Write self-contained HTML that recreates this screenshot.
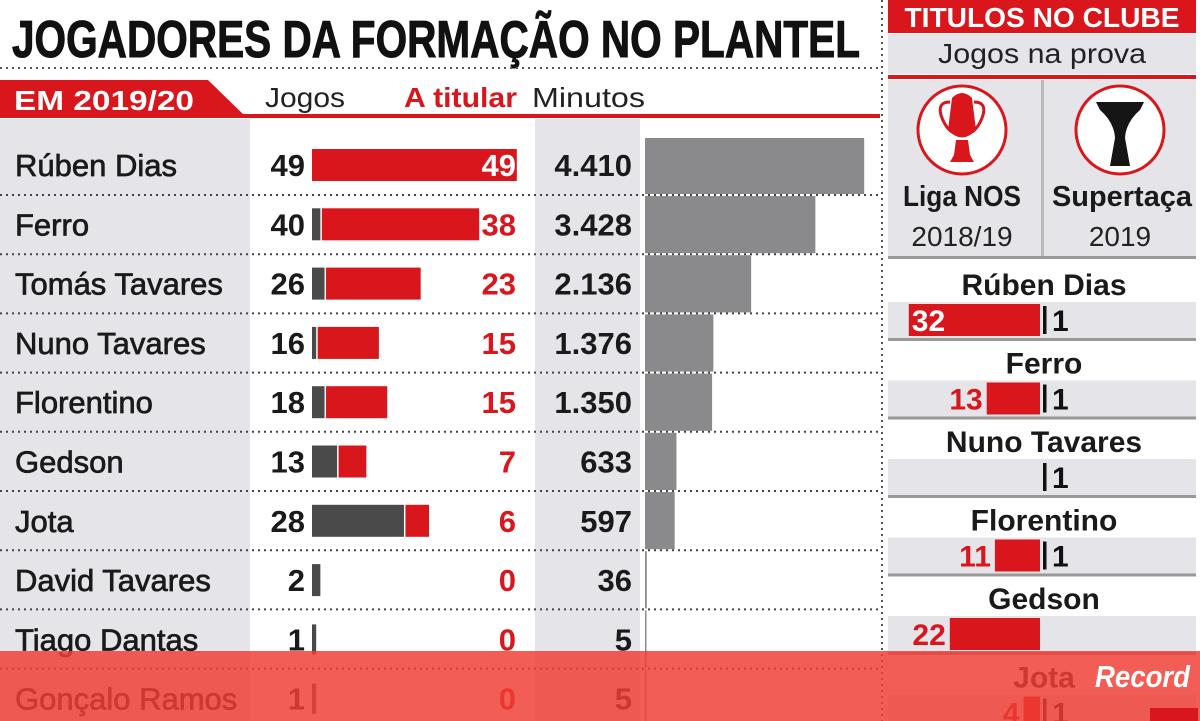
<!DOCTYPE html>
<html><head><meta charset="utf-8">
<style>
html,body{margin:0;padding:0;background:#fff;}
svg{display:block;}
text{font-family:"Liberation Sans",sans-serif;}
</style></head>
<body>
<svg id="c" width="1200" height="721" viewBox="0 0 1200 721" xmlns="http://www.w3.org/2000/svg"></svg>
<script>
const players = ["Rúben Dias","Ferro","Tomás Tavares","Nuno Tavares","Florentino","Gedson","Jota","David Tavares","Tiago Dantas","Gonçalo Ramos"];
const jogos = [49,40,26,16,18,13,28,2,1,1];
const titular = [49,38,23,15,15,7,6,0,0,0];
const minutos = [4410,3428,2136,1376,1350,633,597,36,5,5];
const minutosLabels = ["4.410","3.428","2.136","1.376","1.350","633","597","36","5","5"];
const tPlayers = ["Rúben Dias","Ferro","Nuno Tavares","Florentino","Gedson","Jota"];
const ligaNos = [32,13,0,11,22,4];
const supertaca = [1,1,1,1,0,1];

const NS="http://www.w3.org/2000/svg";
const svg=document.getElementById('c');
function el(tag,attrs,parent){const e=document.createElementNS(NS,tag);for(const k in attrs)e.setAttribute(k,attrs[k]);(parent||svg).appendChild(e);return e;}
function txt(s,attrs,parent){const e=el('text',attrs,parent);e.textContent=s;return e;}

const RED="#d9161c", DARK="#4a4a4a", MINBAR="#8a8a8c", BG="#e5e5e9";
const rowY=i=>165+59.3*i;
const sepY=i=>195+59.2*i;
const xJ=v=>312+v*4.18;
const xM=v=>645+v*0.0497;
const xT=v=>1040-v*4.1;

let r;
r=el('rect',{x:0,y:119,width:250,height:602,fill:BG});

r=el('rect',{x:535,y:119,width:105,height:602,fill:BG});


let t=txt("JOGADORES DA FORMAÇÃO NO PLANTEL",{x:12,y:57,'font-size':52,'font-weight':'bold',fill:'#111',stroke:'#111','stroke-width':1,textLength:848,lengthAdjust:'spacingAndGlyphs'});

el('line',{x1:0,y1:68,x2:880,y2:68,stroke:'#555','stroke-width':2,'stroke-dasharray':'2 4'});
el('line',{x1:882,y1:0,x2:882,y2:721,stroke:'#555','stroke-width':2,'stroke-dasharray':'2 4'});

r=el('path',{d:'M0 80 L208 80 L246 117 L0 117 Z',fill:RED});

el('rect',{x:0,y:114,width:880,height:4,fill:RED});
t=txt("EM 2019/20",{x:14,y:110,'font-size':28,'font-weight':'bold',fill:'#fff',textLength:180,lengthAdjust:'spacingAndGlyphs'});

t=txt("Jogos",{x:265,y:107,'font-size':28,fill:'#222',textLength:80,lengthAdjust:'spacingAndGlyphs'});

t=txt("A titular",{x:404,y:107,'font-size':28,'font-weight':'bold',fill:RED,textLength:113,lengthAdjust:'spacingAndGlyphs'});

t=txt("Minutos",{x:532,y:107,'font-size':28,fill:'#222',textLength:113,lengthAdjust:'spacingAndGlyphs'});


players.forEach((p,i)=>{
  const cy=rowY(i);
  const g=el('g',{});
  
  
  const top=i===0?138:sepY(i-1)+1, bot=sepY(i)-1;
  const mb=el('rect',{x:645,y:top,width:Math.max(1.5,xM(minutos[i])-645),height:bot-top,fill:MINBAR},g);
  
  
  const n=txt(p,{x:15,y:cy+11,'font-size':31,fill:'#1a1a1a',stroke:'#1a1a1a','stroke-width':0.7},g);
  
  
  const jn=txt(String(jogos[i]),{x:305,y:cy+11,'font-size':31,'font-weight':'bold','text-anchor':'end',fill:'#1a1a1a'},g);
  
  
  const sub=jogos[i]-titular[i];
  const bh=i>=8?30:32;
  if(sub>0){
    const gb=el('rect',{x:xJ(0),y:cy-bh/2,width:Math.max(2.5,xJ(sub)-xJ(0)),height:bh,fill:DARK},g);
    
    
  }
  if(titular[i]>0){
    const x0=xJ(sub)+(sub>0?1.5:0);
    const rb=el('rect',{x:x0,y:cy-bh/2,width:xJ(jogos[i])-x0,height:bh,fill:RED},g);
    
    
  }
  const tn=txt(String(titular[i]),{x:516,y:cy+11,'font-size':31,'font-weight':'bold','text-anchor':'end',fill:i===0?'#fff':RED},g);
  
  
  const mn=txt(minutosLabels[i],{x:632,y:cy+11,'font-size':31,'font-weight':'bold','text-anchor':'end',fill:'#1a1a1a'},g);
  
  
  const s=el('line',{x1:0,y1:sepY(i),x2:880,y2:sepY(i),stroke:'#444','stroke-width':2,'stroke-dasharray':'2 4'},g);
  
  
});

r=el('rect',{x:888,y:0,width:308,height:33,fill:RED});

t=txt("TITULOS NO CLUBE",{x:1042,y:27,'font-size':28,'font-weight':'bold',fill:'#fff','text-anchor':'middle',textLength:275,lengthAdjust:'spacingAndGlyphs'});

el('rect',{x:888,y:34,width:308,height:40,fill:BG});
t=txt("Jogos na prova",{x:1042,y:63,'font-size':28,fill:'#222','text-anchor':'middle',textLength:208,lengthAdjust:'spacingAndGlyphs'});

el('rect',{x:888,y:75,width:308,height:4,fill:RED});
el('rect',{x:888,y:80,width:308,height:178,fill:BG});
el('rect',{x:1041,y:80,width:3,height:178,fill:'#bbb'});
el('rect',{x:888,y:256,width:308,height:3,fill:'#999'});
[[962,"Liga NOS","2018/19",RED],[1120,"Supertaça","2019","#151515"]].forEach((d,k)=>{
  const g=el('g',{});
  
  
  el('circle',{cx:d[0],cy:130,r:44,fill:'#fff',stroke:RED,'stroke-width':3},g);
  if(k===0){
    el('path',{d:`M${d[0]-10} 98 Q${d[0]} 88 ${d[0]+10} 98 L${d[0]+14} 130 Q${d[0]} 145 ${d[0]-14} 130 Z M${d[0]-6} 140 L${d[0]+6} 140 L${d[0]+8} 155 L${d[0]+12} 162 L${d[0]-12} 162 L${d[0]-8} 155 Z`,fill:RED},g);
    el('path',{d:`M${d[0]-12} 102 Q${d[0]-26} 102 ${d[0]-20} 118 Q${d[0]-16} 128 ${d[0]-10} 132`,fill:'none',stroke:RED,'stroke-width':3},g);
    el('path',{d:`M${d[0]+12} 102 Q${d[0]+26} 102 ${d[0]+20} 118 Q${d[0]+16} 128 ${d[0]+10} 132`,fill:'none',stroke:RED,'stroke-width':3},g);
  } else {
    el('path',{d:`M${d[0]-24} 102 L${d[0]+24} 102 L${d[0]+20} 110 Q${d[0]+6} 122 ${d[0]+5} 138 L${d[0]+10} 166 L${d[0]-10} 166 L${d[0]-5} 138 Q${d[0]-6} 122 ${d[0]-20} 110 Z`,fill:'#151515'},g);
  }
  txt(d[1],{x:d[0]+(k?2:0),y:206,'font-size':29,'font-weight':'bold','text-anchor':'middle',fill:'#1a1a1a',textLength:k?140:118,lengthAdjust:'spacingAndGlyphs'},g);
  txt(d[2],{x:d[0],y:246,'font-size':28,'text-anchor':'middle',fill:'#222'},g);
});
tPlayers.forEach((p,i)=>{
  const y0=262+78.5*i;
  const g=el('g',{});
  
  
  el('rect',{x:888,y:y0+40,width:308,height:36,fill:BG},g);
  el('rect',{x:888,y:y0+76,width:308,height:3,fill:'#999'},g);
  const nm=txt(p,{x:1044,y:y0+33,'font-size':30,'font-weight':'bold','text-anchor':'middle',fill:'#1a1a1a'},g);
  
  
  const cy=y0+58;
  if(ligaNos[i]>0){
    const b=el('rect',{x:xT(ligaNos[i]),y:cy-16,width:xT(0)-xT(ligaNos[i]),height:32,fill:RED},g);
    
    
    const inside=ligaNos[i]>=30;
    const lv=txt(String(ligaNos[i]),{x:inside?xT(ligaNos[i])+3:xT(ligaNos[i])-4,y:cy+11,'font-size':30,'font-weight':'bold','text-anchor':inside?'start':'end',fill:inside?'#fff':RED},g);
    
    
  }
  if(supertaca[i]>0){
    const tk=el('rect',{x:1043,y:cy-14,width:3.5,height:supertaca[i]*28,fill:'#111'},g);
    
    
    const sv=txt(String(supertaca[i]),{x:1052,y:cy+11,'font-size':30,'font-weight':'bold',fill:'#111'},g);
    
    
  }
});

r=el('rect',{x:0,y:651,width:1200,height:70,fill:'rgba(240,62,52,0.84)'});

t=txt("Record",{x:1095,y:687,'font-size':31,'font-weight':'bold','font-style':'italic','font-family':'"Liberation Serif",serif',fill:'#fff',textLength:95,lengthAdjust:'spacingAndGlyphs'});

el('rect',{x:1150,y:708,width:48,height:13,fill:RED});
</script>
</body></html>
